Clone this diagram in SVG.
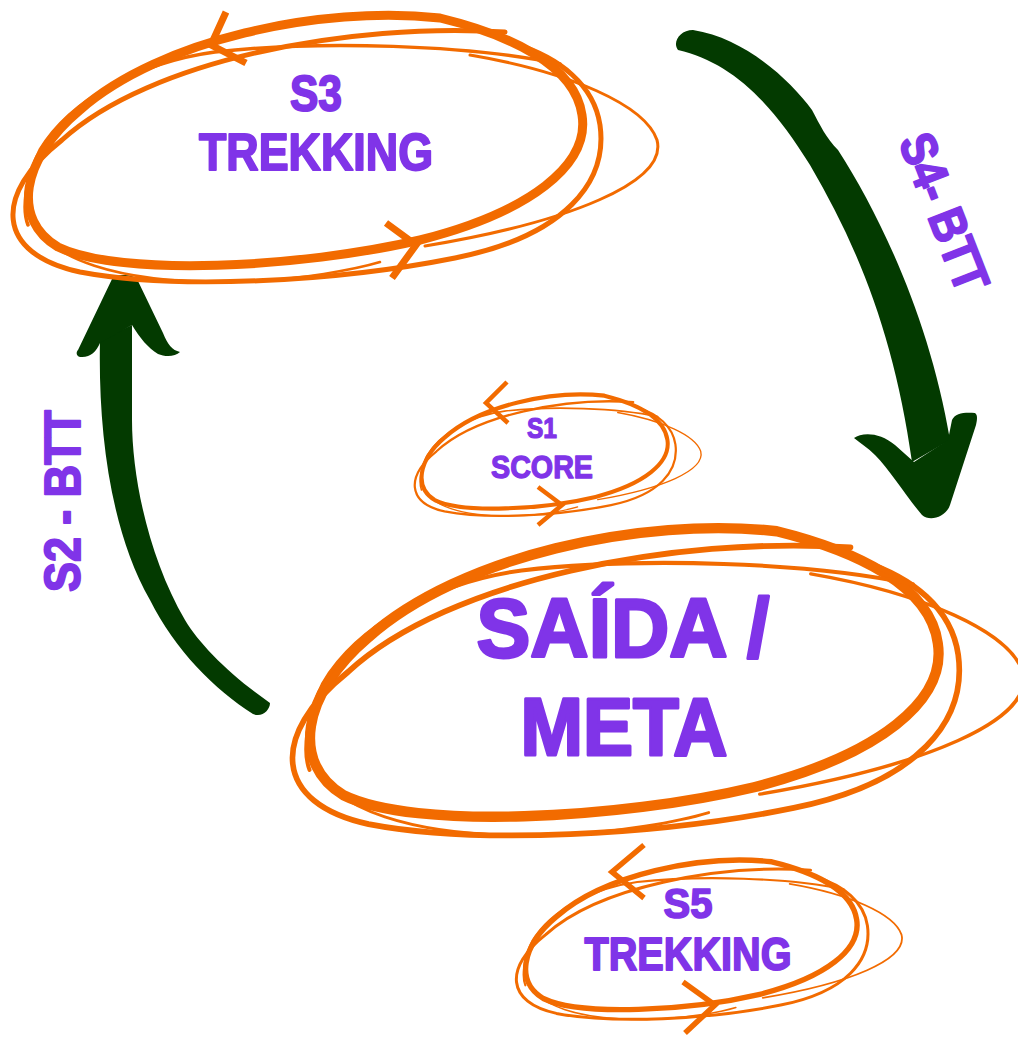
<svg xmlns="http://www.w3.org/2000/svg" xmlns:xlink="http://www.w3.org/1999/xlink" width="1018" height="1037" viewBox="0 0 1018 1037">
<style>
.sc{fill:none;stroke:#f26b00;stroke-linecap:round;stroke-linejoin:round}
.tick{fill:none;stroke:#f26b00;stroke-linecap:butt;stroke-linejoin:miter}
.lbl{font-family:"Liberation Sans",Arial,sans-serif;font-weight:bold;fill:#8034e8;stroke:#8034e8;stroke-linejoin:round;text-anchor:middle}
.arr{fill:#033a00}
</style>
<defs>
<g id="scribble">
<path class="sc" stroke-width="9" d="M 440,18 C 320,5 160,40 80,110 C 20,160 12,220 58,247 C 120,277 300,268 420,240 C 530,212 590,165 582,115 C 575,65 510,35 440,18 Z"/>
<path class="sc" stroke-width="5" d="M 505,32 C 350,22 150,60 62,140 C -8,195 -4,254 80,272 C 175,290 335,282 455,258 C 565,236 608,182 600,125 C 594,85 560,58 515,44"/>
<path class="sc" stroke-width="3.5" d="M 560,64 C 470,45 320,40 215,52 C 140,62 70,100 40,150 C 25,180 22,210 28,225"/>
<path class="sc" stroke-width="3" d="M 470,55 C 570,72 645,105 657,140 C 668,182 570,222 425,246"/>
<path class="sc" stroke-width="2.5" d="M 30,215 C 45,260 120,283 230,282 C 300,281 360,268 380,262"/>
</g>
</defs>
<rect width="1018" height="1037" fill="#ffffff"/>

<g id="connectors">
<g id="s4-arrow">
<path class="arr" d="M 693,30 C 745,38 790,80 812,110 C 820,125 826,138 838,150 C 880,215 930,320 950,440 L 912,462 C 895,340 860,250 810,165 C 770,100 730,62 678,50 C 672,42 680,30 693,30 Z"/>
<path class="arr" d="M 854,438 C 862,432 880,432 895,445 L 914,462 L 948,440 L 952,420 C 955,413 965,412 975,413 C 978,415 977,420 976,425 L 950,505 C 946,517 930,522 922,515 C 905,495 890,470 875,455 C 868,448 860,443 854,438 Z"/>
<text class="lbl" font-size="50" stroke-width="2" textLength="166" lengthAdjust="spacingAndGlyphs" x="0" y="18" transform="translate(945,212) rotate(68.8)">S4- BTT</text>
</g>
<g id="s2-arrow">
<path class="arr" d="M 100,340 C 98,430 110,530 150,600 C 175,650 215,690 253,714 C 262,718 270,710 270,703 C 230,675 200,645 185,620 C 150,560 132,480 132,420 L 132,325 Z"/>
<path class="arr" d="M 113,277 C 118,274 132,274 137,279 L 163,333 C 168,345 172,350 180,352 C 175,357 165,357 158,354 C 148,348 140,338 132,325 L 100,343 C 96,352 90,358 80,357 C 76,356 76,352 78,350 Z"/>
<text class="lbl" font-size="50" stroke-width="2" textLength="182" lengthAdjust="spacingAndGlyphs" x="0" y="18" transform="translate(62,501) rotate(-90)">S2 - BTT</text>
</g>
</g>

<g id="s3">
<use xlink:href="#scribble" href="#scribble"/>
<polyline class="tick" stroke-width="7" points="226,12 211,45 246,63"/>
<polyline class="tick" stroke-width="7" points="386,223 416,245 392,278"/>
<text class="lbl" font-size="50" stroke-width="2" x="316" y="111" textLength="52" lengthAdjust="spacingAndGlyphs">S3</text>
<text class="lbl" font-size="52" stroke-width="2" x="316" y="170" textLength="234" lengthAdjust="spacingAndGlyphs">TREKKING</text>
</g>

<g id="s1">
<use xlink:href="#scribble" href="#scribble" transform="translate(413,392) scale(0.444,0.456) translate(-9,-10)"/>
<polyline class="tick" stroke-width="4.5" points="507,382 486,403 508,423"/>
<polyline class="tick" stroke-width="4.5" points="538,487 562,505 538,525"/>
<text class="lbl" font-size="29" stroke-width="1.2" x="542" y="438" textLength="30" lengthAdjust="spacingAndGlyphs">S1</text>
<text class="lbl" font-size="32" stroke-width="1.3" x="542" y="478" textLength="102" lengthAdjust="spacingAndGlyphs">SCORE</text>
</g>

<g id="saida">
<use xlink:href="#scribble" href="#scribble" transform="translate(288,522) scale(1.134,1.153) translate(-9,-10)"/>
<text class="lbl" font-size="84" stroke-width="3" x="623" y="657" textLength="293" lengthAdjust="spacingAndGlyphs">SAÍDA /</text>
<text class="lbl" font-size="82" stroke-width="3" x="624" y="755" textLength="207" lengthAdjust="spacingAndGlyphs">META</text>
</g>

<g id="s5">
<use xlink:href="#scribble" href="#scribble" transform="translate(514,857) scale(0.598,0.597) translate(-9,-10)"/>
<polyline class="tick" stroke-width="5.5" points="644,845 612,872 644,898"/>
<polyline class="tick" stroke-width="5.5" points="683,982 715,1005 685,1033"/>
<text class="lbl" font-size="43" stroke-width="1.7" x="688" y="918" textLength="49" lengthAdjust="spacingAndGlyphs">S5</text>
<text class="lbl" font-size="46" stroke-width="1.8" x="688" y="970" textLength="207" lengthAdjust="spacingAndGlyphs">TREKKING</text>
</g>
</svg>
